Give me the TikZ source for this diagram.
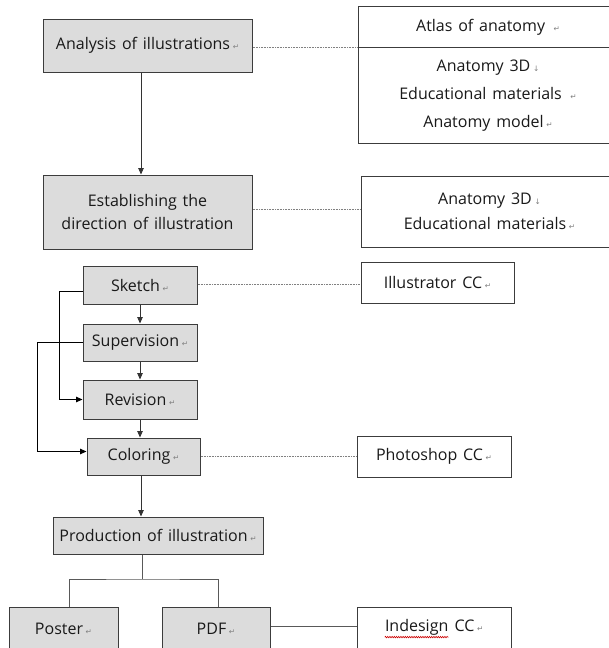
\documentclass[tikz,border=0pt]{standalone}
\usepackage{fontspec}
\setmainfont{Open Sans}[WordSpace=1.4]
\newfontfamily\symf{DejaVu Sans}
\usetikzlibrary{arrows.meta,decorations.pathmorphing}
\definecolor{boxfill}{HTML}{DCDCDC}
\definecolor{edgec}{HTML}{3C3C3C}
\newcommand{\retm}{\,{\symf\fontsize{7.5}{7.5}\selectfont\color{gray}↵}}
\newcommand{\lbm}{\,{\symf\fontsize{7.5}{7.5}\selectfont\color{gray}↓}}
\newcommand{\spellword}[1]{\tikz[baseline=(w.base)]{\node[inner sep=0pt,minimum width=0pt,minimum height=0pt,draw=none,fill=none,anchor=base] (w) {#1};\draw[red!80!black,line width=0.6pt,decorate,decoration={snake,amplitude=0.7pt,segment length=2.2pt}] ([yshift=-2pt]w.south west) -- ([yshift=-2pt]w.south east);}}
\begin{document}
\begin{tikzpicture}[x=1pt,y=-1pt,
  gbox/.style={draw=edgec,fill=boxfill,line width=1pt,inner sep=0pt,align=center,font=\fontsize{16}{23}\selectfont,text=black!90},
  wbox/.style={gbox,fill=white},
  dotline/.style={draw=gray,line width=0.6pt,dash pattern=on 0.8pt off 0.8pt},
  arr/.style={draw=black!80,line width=0.9pt,-{Triangle[length=6.5pt,width=5.5pt]}},
  conn/.style={draw=black!65,line width=0.9pt}]
\useasboundingbox (0,0) rectangle (609,648);
\fill[white] (0,0) rectangle (609,648);
% left column
\node[gbox,minimum width=209pt,minimum height=53pt] (ana) at (147.5,45.5) {Analysis of illustrations\retm};
\node[gbox,minimum width=209pt,minimum height=74pt] (est) at (147.5,212) {Establishing the\\direction of illustration};
\node[gbox,minimum width=114pt,minimum height=38pt] (sketch) at (140,285) {Sketch\retm};
\node[gbox,minimum width=114pt,minimum height=37pt] (sup) at (140,342.5) {Supervision\retm};
\node[gbox,minimum width=114pt,minimum height=39pt] (rev) at (140,399.5) {Revision\retm};
\node[gbox,minimum width=113pt,minimum height=37pt] (col) at (143.5,456.5) {Coloring\retm};
\node[gbox,minimum width=210pt,minimum height=37pt] (prod) at (158,535.5) {Production of illustration\retm};
\node[gbox,minimum width=109pt,minimum height=43pt] (poster) at (63.5,628.5) {Poster\retm};
\node[gbox,minimum width=108pt,minimum height=43pt] (pdf) at (216,628.5) {PDF\retm};
% right column
\node[wbox,minimum width=260pt,minimum height=40.6pt] (atlasT) at (488,27) {Atlas of anatomy\ \retm};
\node[wbox,minimum width=260pt,minimum height=96pt,font=\fontsize{16}{28}\selectfont] (atlasB) at (488,95.3) {Anatomy 3D\lbm\\Educational materials\ \retm\\Anatomy model\retm};
\node[wbox,minimum width=257pt,minimum height=71pt,font=\fontsize{16}{25}\selectfont] (soft) at (489.5,211.5) {Anatomy 3D\lbm\\Educational materials\retm};
\node[wbox,minimum width=153pt,minimum height=41pt] (ill) at (437.5,282.5) {Illustrator CC\retm};
\node[wbox,minimum width=154pt,minimum height=41pt] (ps) at (434,456.5) {Photoshop CC\retm};
\node[wbox,minimum width=154pt,minimum height=43pt] (ind) at (434,628.5) {\spellword{Indesign} CC\retm};
% arrows
\draw[arr] (ana.south -| 141,0) -- (est.north -| 141,0);
\draw[arr] (sketch.south) -- (sup.north);
\draw[arr] (sup.south) -- (rev.north);
\draw[arr] (rev.south) -- (rev.south |- col.north);
\draw[arr] (col.south -| 141,0) -- (prod.north -| 141,0);
\draw[arr,draw=black] ([yshift=-6pt]sketch.west) -- ++(-23,0) |- (rev.west);
\draw[arr,draw=black] (sup.west) -- ++(-45,0) |- ([yshift=5pt]col.west);
% production split
\coordinate (split) at (142,579);
\draw[conn] (prod.south -| split) -- (split);
\draw[conn] (poster.north -| 69,0) |- (split) -| (pdf.north -| 218,0);
\draw[conn] ([yshift=2.5pt]pdf.east) -- ([yshift=2.5pt]ind.west);
% dotted links
\draw[dotline] ([yshift=-1.5pt]ana.east) -- ([yshift=-1.5pt]ana.east -| atlasB.west);
\draw[dotline] ([yshift=3pt]est.east) -- ([yshift=3pt]est.east -| soft.west);
\draw[dotline] ([yshift=1pt]sketch.east) -- ([yshift=1pt]sketch.east -| ill.west);
\draw[dotline] (col.east) -- (col.east -| ps.west);
\end{tikzpicture}
\end{document}
